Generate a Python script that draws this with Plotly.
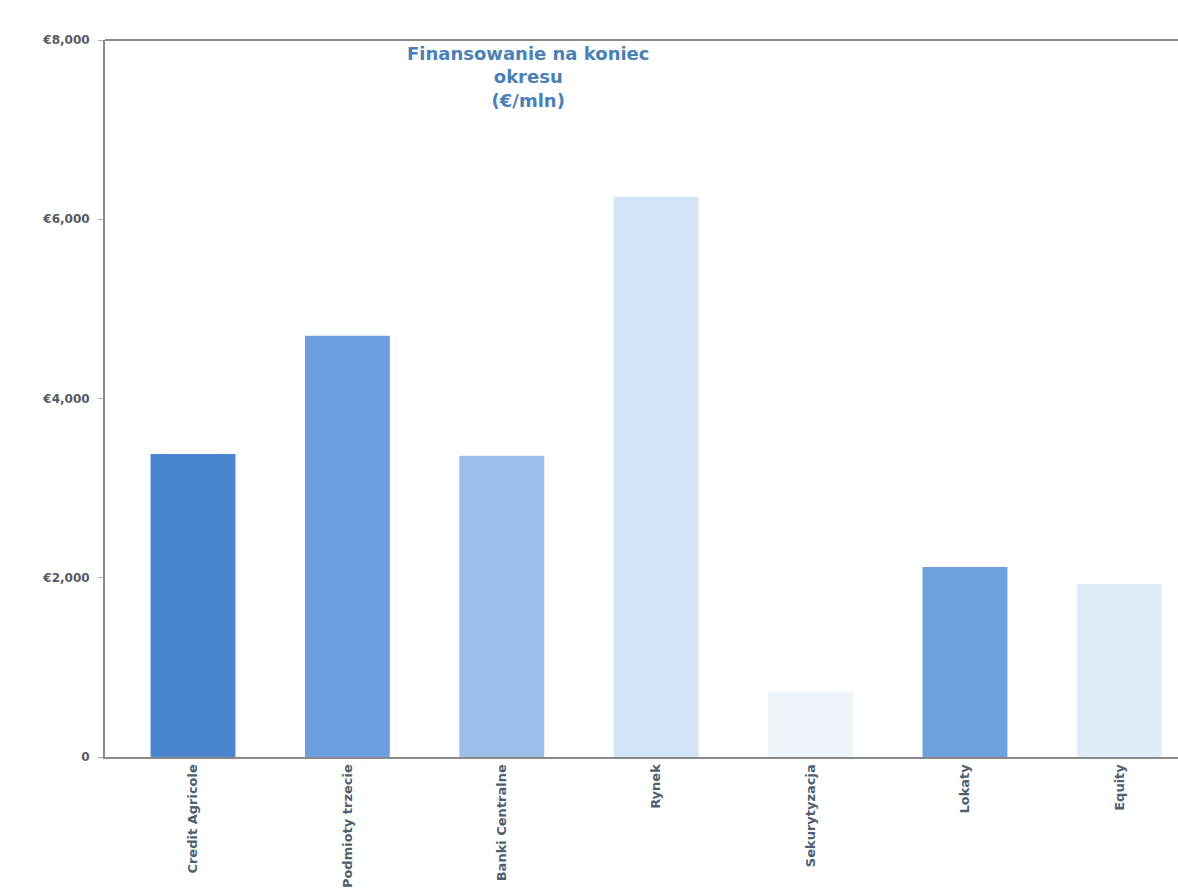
import plotly.graph_objects as go

# Funding at end of period, EUR mln
categories = ["Credit Agricole", "Podmioty trzecie", "Banki Centralne", "Rynek",
              "Sekurytyzacja", "Lokaty", "Equity"]
values = [3380, 4700, 3360, 6250, 730, 2120, 1930]
bar_colors = ["#4a85cf", "#6b9fdf", "#9bbfe9", "#d2e4f5", "#eef4f9", "#6ea1e0", "#e0ecf7"]

tick_vals = [0, 2000, 4000, 6000, 8000]
tick_text = ["0", "€2,000", "€4,000", "€6,000", "€8,000"]

title_lines = ["Finansowanie na koniec", "okresu", "(€/mln)"]

fig = go.Figure(
    go.Bar(
        x=categories,
        y=values,
        marker=dict(color=bar_colors, line=dict(width=0)),
        hoverinfo="x+y",
    )
)

fig.update_layout(
    width=1178,
    height=889,
    margin=dict(l=105, r=0, t=40, b=132),
    paper_bgcolor="white",
    plot_bgcolor="white",
    showlegend=False,
    bargap=0.45,
    font=dict(family="DejaVu Sans", size=11, color="#555a60"),
)

fig.update_xaxes(
    range=[-0.57, 6.38],
    tickangle=-90,
    showline=True,
    linecolor="#8a8a8a",
    linewidth=2,
    ticks="",
    showgrid=False,
    tickfont=dict(family="DejaVu Sans", size=13, color="#4f5f6e", weight="bold"),
)

fig.update_yaxes(
    range=[0, 8000],
    tickvals=tick_vals,
    ticktext=tick_text,
    showline=True,
    linecolor="#8a8a8a",
    linewidth=2,
    ticks="outside",
    ticklen=5,
    tickcolor="#b0b0b0",
    ticklabelstandoff=6,
    showgrid=False,
    zeroline=False,
    tickfont=dict(family="DejaVu Sans", size=12, color="#555a60", weight="bold"),
)

# top border of the plotting area
fig.add_shape(type="line", xref="paper", yref="paper", x0=0, x1=1, y0=1, y1=1,
              line=dict(color="#8a8a8a", width=2))

fig.add_annotation(
    xref="paper", yref="paper",
    x=0.395, y=0.999,
    xanchor="center", yanchor="top",
    text="<br>".join(title_lines),
    showarrow=False,
    align="center",
    font=dict(family="DejaVu Sans", size=18, color="#4a80b4", weight="bold"),
)

fig.write_html("out.html")
